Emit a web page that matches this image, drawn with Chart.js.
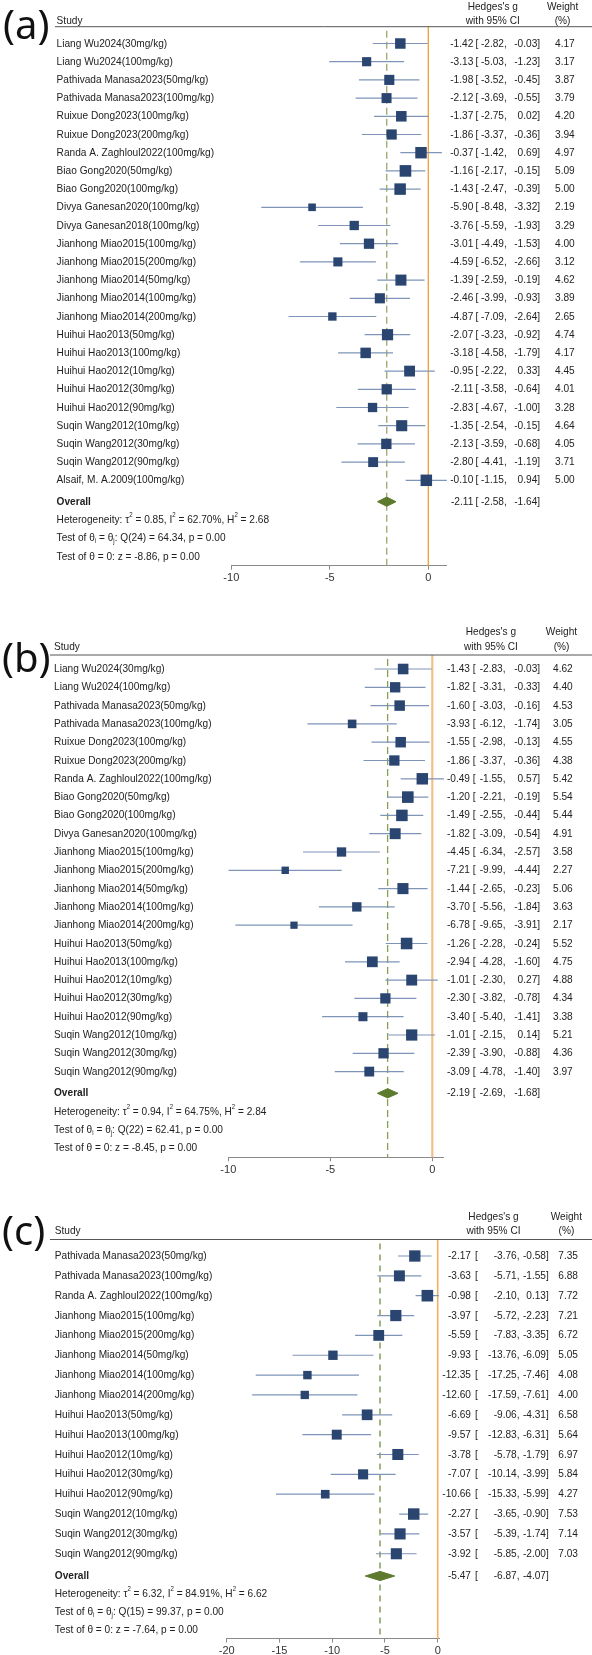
<!DOCTYPE html>
<html><head><meta charset="utf-8">
<script src="https://cdn.jsdelivr.net/npm/chart.js@4.4.0/dist/chart.umd.min.js"></script>
<style>
html,body{margin:0;padding:0;background:#fff;}
body{width:592px;height:1655px;position:relative;overflow:hidden;}
.panel{position:absolute;left:0;width:592px;}
canvas{display:block;}
</style></head><body>
<div class="panel" style="top:0;height:600px"><canvas id="cA" width="592" height="600"></canvas></div>
<div class="panel" style="top:600px;height:580px"><canvas id="cB" width="592" height="580"></canvas></div>
<div class="panel" style="top:1180px;height:475px"><canvas id="cC" width="592" height="475"></canvas></div>
<script>
// ---------------- DATA (panel a) ----------------
const studiesA = ["Liang Wu2024(30mg/kg)","Liang Wu2024(100mg/kg)","Pathivada Manasa2023(50mg/kg)","Pathivada Manasa2023(100mg/kg)","Ruixue Dong2023(100mg/kg)","Ruixue Dong2023(200mg/kg)","Randa A. Zaghloul2022(100mg/kg)","Biao Gong2020(50mg/kg)","Biao Gong2020(100mg/kg)","Divya Ganesan2020(100mg/kg)","Divya Ganesan2018(100mg/kg)","Jianhong Miao2015(100mg/kg)","Jianhong Miao2015(200mg/kg)","Jianhong Miao2014(50mg/kg)","Jianhong Miao2014(100mg/kg)","Jianhong Miao2014(200mg/kg)","Huihui Hao2013(50mg/kg)","Huihui Hao2013(100mg/kg)","Huihui Hao2012(10mg/kg)","Huihui Hao2012(30mg/kg)","Huihui Hao2012(90mg/kg)","Suqin Wang2012(10mg/kg)","Suqin Wang2012(30mg/kg)","Suqin Wang2012(90mg/kg)","Alsaif, M. A.2009(100mg/kg)"];
const estA = [-1.42,-3.13,-1.98,-2.12,-1.37,-1.86,-0.37,-1.16,-1.43,-5.90,-3.76,-3.01,-4.59,-1.39,-2.46,-4.87,-2.07,-3.18,-0.95,-2.11,-2.83,-1.35,-2.13,-2.80,-0.10];
const loA = [-2.82,-5.03,-3.52,-3.69,-2.75,-3.37,-1.42,-2.17,-2.47,-8.48,-5.59,-4.49,-6.52,-2.59,-3.99,-7.09,-3.23,-4.58,-2.22,-3.58,-4.67,-2.54,-3.59,-4.41,-1.15];
const hiA = [-0.03,-1.23,-0.45,-0.55,0.02,-0.36,0.69,-0.15,-0.39,-3.32,-1.93,-1.53,-2.66,-0.19,-0.93,-2.64,-0.92,-1.79,0.33,-0.64,-1.00,-0.15,-0.68,-1.19,0.94];
const weightA = [4.17,3.17,3.87,3.79,4.20,3.94,4.97,5.09,5.00,2.19,3.29,4.00,3.12,4.62,3.89,2.65,4.74,4.17,4.45,4.01,3.28,4.64,4.05,3.71,5.00];
const overallA = [-2.11,-2.58,-1.64];
const statsA = ["0.85","62.70%","2.68","24","64.34","0.00","-8.86","0.00"];
const ticksA = [-10,-5,0];
const rangeA = [-10,0.94];

// ---------------- DATA (panel b) ----------------
const studiesB = ["Liang Wu2024(30mg/kg)","Liang Wu2024(100mg/kg)","Pathivada Manasa2023(50mg/kg)","Pathivada Manasa2023(100mg/kg)","Ruixue Dong2023(100mg/kg)","Ruixue Dong2023(200mg/kg)","Randa A. Zaghloul2022(100mg/kg)","Biao Gong2020(50mg/kg)","Biao Gong2020(100mg/kg)","Divya Ganesan2020(100mg/kg)","Jianhong Miao2015(100mg/kg)","Jianhong Miao2015(200mg/kg)","Jianhong Miao2014(50mg/kg)","Jianhong Miao2014(100mg/kg)","Jianhong Miao2014(200mg/kg)","Huihui Hao2013(50mg/kg)","Huihui Hao2013(100mg/kg)","Huihui Hao2012(10mg/kg)","Huihui Hao2012(30mg/kg)","Huihui Hao2012(90mg/kg)","Suqin Wang2012(10mg/kg)","Suqin Wang2012(30mg/kg)","Suqin Wang2012(90mg/kg)"];
const estB = [-1.43,-1.82,-1.60,-3.93,-1.55,-1.86,-0.49,-1.20,-1.49,-1.82,-4.45,-7.21,-1.44,-3.70,-6.78,-1.26,-2.94,-1.01,-2.30,-3.40,-1.01,-2.39,-3.09];
const loB = [-2.83,-3.31,-3.03,-6.12,-2.98,-3.37,-1.55,-2.21,-2.55,-3.09,-6.34,-9.99,-2.65,-5.56,-9.65,-2.28,-4.28,-2.30,-3.82,-5.40,-2.15,-3.90,-4.78];
const hiB = [-0.03,-0.33,-0.16,-1.74,-0.13,-0.36,0.57,-0.19,-0.44,-0.54,-2.57,-4.44,-0.23,-1.84,-3.91,-0.24,-1.60,0.27,-0.78,-1.41,0.14,-0.88,-1.40];
const weightB = [4.62,4.40,4.53,3.05,4.55,4.38,5.42,5.54,5.44,4.91,3.58,2.27,5.06,3.63,2.17,5.52,4.75,4.88,4.34,3.38,5.21,4.36,3.97];
const overallB = [-2.19,-2.69,-1.68];
const statsB = ["0.94","64.75%","2.84","22","62.41","0.00","-8.45","0.00"];
const ticksB = [-10,-5,0];
const rangeB = [-10,0.57];

// ---------------- DATA (panel c) ----------------
const studiesC = ["Pathivada Manasa2023(50mg/kg)","Pathivada Manasa2023(100mg/kg)","Randa A. Zaghloul2022(100mg/kg)","Jianhong Miao2015(100mg/kg)","Jianhong Miao2015(200mg/kg)","Jianhong Miao2014(50mg/kg)","Jianhong Miao2014(100mg/kg)","Jianhong Miao2014(200mg/kg)","Huihui Hao2013(50mg/kg)","Huihui Hao2013(100mg/kg)","Huihui Hao2012(10mg/kg)","Huihui Hao2012(30mg/kg)","Huihui Hao2012(90mg/kg)","Suqin Wang2012(10mg/kg)","Suqin Wang2012(30mg/kg)","Suqin Wang2012(90mg/kg)"];
const estC = [-2.17,-3.63,-0.98,-3.97,-5.59,-9.93,-12.35,-12.60,-6.69,-9.57,-3.78,-7.07,-10.66,-2.27,-3.57,-3.92];
const loC = [-3.76,-5.71,-2.10,-5.72,-7.83,-13.76,-17.25,-17.59,-9.06,-12.83,-5.78,-10.14,-15.33,-3.65,-5.39,-5.85];
const hiC = [-0.58,-1.55,0.13,-2.23,-3.35,-6.09,-7.46,-7.61,-4.31,-6.31,-1.79,-3.99,-5.99,-0.90,-1.74,-2.00];
const weightC = [7.35,6.88,7.72,7.21,6.72,5.05,4.08,4.00,6.58,5.64,6.97,5.84,4.27,7.53,7.14,7.03];
const overallC = [-5.47,-6.87,-4.07];
const statsC = ["6.32","84.91%","6.62","15","99.37","0.00","-7.64","0.00"];
const ticksC = [-20,-15,-10,-5,0];
const rangeC = [-20,0.13];

// ---------------- LAYOUT / STYLE ----------------
const FAM = "'Liberation Sans', Arial, sans-serif";
const SX = 0.92;
const layA = {top:0,h:600,header:26.7,row0:43.5,step:18.2,overall:501.7,stats:[520,538.3,556.7],axis:565.7,x0:428.3,ppu:19.7,studyX:56.6,ruleX:55,hedgesX:492.8,weightHX:562.6,hedgesY:6.5,ciY:21,colEst:473.3,colBr:475.5,colLo:504,colHi:537.3,colW:574.7,label:"(a)",labelX:3,labelY:28,green:"#9aaa6c",dash:[7,4],orange:"#f0a035",orangeW:1.3};
const layB = {top:600,h:580,header:655,row0:669,step:18.3,overall:1093.3,stats:[1111.7,1130,1148.3],axis:1157.3,x0:432.3,ppu:20.4,studyX:54,ruleX:50,hedgesX:490.9,weightHX:561.5,hedgesY:632,ciY:647,colEst:470,colBr:472.8,colLo:502.7,colHi:537.3,colW:572.7,label:"(b)",labelX:2,labelY:661,green:"#86a055",dash:[7,4],orange:"#f0c088",orangeW:2.2};
const layC = {top:1180,h:475,header:1239.5,row0:1256,step:19.85,overall:1576,stats:[1594,1612,1629.5],axis:1638.5,x0:437.7,ppu:10.55,studyX:54.8,ruleX:50,hedgesX:493.5,weightHX:566.4,hedgesY:1217,ciY:1231,colEst:471,colBr:475,colLo:516.7,colHi:546,colW:578,label:"(c)",labelX:2,labelY:1234,green:"#6f8f3d",dash:[6,5],orange:"#f2b060",orangeW:1.6};

const SQ = "#2b4571", CIC = "#7f95b8", DIA = "#5d7a2d", TXT = "#222";

function txt(ctx, s, x, y, align, font, color, sx) {
  ctx.save(); ctx.font = font; ctx.fillStyle = color; ctx.textAlign = align; ctx.textBaseline = "middle";
  ctx.translate(x, y); ctx.scale(sx, 1); ctx.fillText(s, 0, 0); ctx.restore();
}
function rich(ctx, segs, x, y, size, color, sx) {
  let cx = x;
  segs.forEach(sg => {
    const small = sg.sub || sg.sup;
    const fs = small ? size * 0.6 : size;
    ctx.save(); ctx.font = fs + "px " + FAM; ctx.fillStyle = color; ctx.textBaseline = "middle"; ctx.textAlign = "left";
    const dy = sg.sup ? -size * 0.45 : (sg.sub ? size * 0.25 : 0);
    ctx.translate(cx, y + dy); ctx.scale(sx, 1); ctx.fillText(sg.t, 0, 0);
    cx += ctx.measureText(sg.t).width * sx;
    ctx.restore();
  });
}
const f2 = v => v.toFixed(2);

function makePanel(id, L, studies, est, lo, hi, w, overall, stats, ticks, range) {
  const top = L.top;
  const yMin = -(L.row0 - L.header) / L.step;
  const yMax = (L.axis - L.row0) / L.step;
  const oy = (L.overall - L.row0) / L.step;
  const wmax = Math.max(...w);
  const radii = w.map(v => 11.6 * Math.sqrt(v / wmax) / (2 * Math.SQRT1_2));
  const ci = [];
  lo.forEach((l, i) => { ci.push({x: l, y: i}, {x: hi[i], y: i}, {x: NaN, y: NaN}); });
  const hh = 4.6 / L.step;
  const diamond = [{x: overall[1], y: oy}, {x: overall[0], y: oy - hh}, {x: overall[2], y: oy}, {x: overall[0], y: oy + hh}, {x: overall[1], y: oy}];
  const AXH = L.h - (L.axis - top);
  const padL = L.x0 + L.ppu * range[0];
  const padR = 592 - (L.x0 + L.ppu * range[1]);
  const padT = L.header - top;

  const textPlugin = {
    id: "forestText",
    afterDraw(chart) {
      const ctx = chart.ctx, ys = chart.scales.y;
      const F = "11px " + FAM, FB = "bold 11px " + FAM;
      ctx.save(); ctx.font = "40px 'Noto Sans', 'Open Sans', sans-serif"; ctx.fillStyle = "#111"; ctx.textBaseline = "middle"; ctx.textAlign = "left";
      ctx.fillText(L.label, L.labelX, L.labelY - top); ctx.restore();
      txt(ctx, "Study", L.studyX, L.ciY - top, "left", F, TXT, SX);
      txt(ctx, "Hedges's g", L.hedgesX, L.hedgesY - top, "center", F, TXT, SX);
      txt(ctx, "with 95% CI", L.hedgesX, L.ciY - top, "center", F, TXT, SX);
      txt(ctx, "Weight", L.weightHX, L.hedgesY - top, "center", F, TXT, SX);
      txt(ctx, "(%)", L.weightHX, L.ciY - top, "center", F, TXT, SX);
      ctx.save(); ctx.strokeStyle = "#555"; ctx.lineWidth = 1; ctx.beginPath();
      ctx.moveTo(L.ruleX, L.header - top); ctx.lineTo(592, L.header - top); ctx.stroke(); ctx.restore();
      const row = (y, e, l, h, wt, font) => {
        txt(ctx, f2(e), L.colEst, y, "right", font, TXT, SX);
        txt(ctx, "[", L.colBr, y, "left", font, TXT, SX);
        txt(ctx, f2(l), L.colLo, y, "right", font, TXT, SX);
        txt(ctx, ",", L.colLo, y, "left", font, TXT, SX);
        txt(ctx, f2(h), L.colHi, y, "right", font, TXT, SX);
        txt(ctx, "]", L.colHi, y, "left", font, TXT, SX);
        if (wt !== null) txt(ctx, f2(wt), L.colW, y, "right", font, TXT, SX);
      };
      studies.forEach((s, i) => {
        const y = ys.getPixelForValue(i);
        txt(ctx, s, L.studyX, y, "left", F, TXT, SX);
        row(y, est[i], lo[i], hi[i], w[i], F);
      });
      const yo = ys.getPixelForValue(oy);
      txt(ctx, "Overall", L.studyX, yo, "left", FB, TXT, SX);
      row(yo, overall[0], overall[1], overall[2], null, F);
      rich(ctx, [{t: "Heterogeneity: \u03C4"}, {t: "2", sup: 1}, {t: " = " + stats[0] + ", I"}, {t: "2", sup: 1}, {t: " = " + stats[1] + ", H"}, {t: "2", sup: 1}, {t: " = " + stats[2]}], L.studyX, L.stats[0] - top, 11, TXT, SX);
      rich(ctx, [{t: "Test of \u03B8"}, {t: "i", sub: 1}, {t: " = \u03B8"}, {t: "j", sub: 1}, {t: ": Q(" + stats[3] + ") = " + stats[4] + ", p = " + stats[5]}], L.studyX, L.stats[1] - top, 11, TXT, SX);
      rich(ctx, [{t: "Test of \u03B8 = 0: z = " + stats[6] + ", p = " + stats[7]}], L.studyX, L.stats[2] - top, 11, TXT, SX);
    }
  };

  return new Chart(document.getElementById(id), {
    type: "scatter",
    data: {
      datasets: [
        {data: est.map((e, i) => ({x: e, y: i})), pointStyle: "rect", pointRadius: radii, pointHoverRadius: radii, backgroundColor: SQ, borderColor: SQ, pointBorderWidth: 0, clip: false, order: 0},
        {data: ci, showLine: true, borderColor: CIC, borderWidth: 1.2, pointRadius: 0, clip: false, order: 1},
        {data: diamond, showLine: true, fill: "shape", backgroundColor: DIA, borderColor: DIA, borderWidth: 1, pointRadius: 0, tension: 0, clip: false, order: 0},
        {data: [{x: overall[0], y: yMin + 4 / L.step}, {x: overall[0], y: yMax}], showLine: true, borderColor: L.green, borderWidth: 1.3, borderDash: L.dash, pointRadius: 0, clip: false, order: 3},
        {data: [{x: 0, y: yMin}, {x: 0, y: yMax}], showLine: true, borderColor: L.orange, borderWidth: L.orangeW, pointRadius: 0, clip: false, order: 2}
      ]
    },
    options: {
      responsive: false, animation: false, events: [], devicePixelRatio: 1,
      layout: {padding: {left: padL, right: padR, top: padT, bottom: 0}},
      plugins: {legend: {display: false}, tooltip: {enabled: false}},
      scales: {
        x: {type: "linear", min: range[0], max: range[1],
          afterBuildTicks: s => { s.ticks = ticks.map(v => ({value: v})); },
          afterFit: s => { s.height = AXH; },
          border: {display: true, color: "#8a8a8a", width: 1},
          grid: {drawOnChartArea: false, drawTicks: true, tickLength: 4, color: "#8a8a8a"},
          ticks: {font: {size: 11, family: FAM}, color: "#333", padding: 2, maxRotation: 0, autoSkip: false}
        },
        y: {type: "linear", display: false, reverse: true, min: yMin, max: yMax}
      }
    },
    plugins: [textPlugin]
  });
}

makePanel("cA", layA, studiesA, estA, loA, hiA, weightA, overallA, statsA, ticksA, rangeA);
makePanel("cB", layB, studiesB, estB, loB, hiB, weightB, overallB, statsB, ticksB, rangeB);
makePanel("cC", layC, studiesC, estC, loC, hiC, weightC, overallC, statsC, ticksC, rangeC);
</script>
</body></html>
